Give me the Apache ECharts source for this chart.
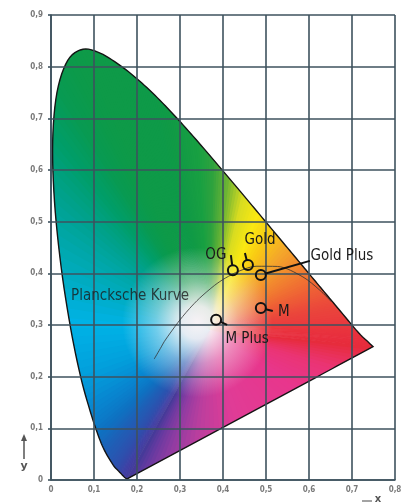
<!DOCTYPE html>
<html><head><meta charset="utf-8">
<script src="https://cdn.jsdelivr.net/npm/echarts@6/dist/echarts.min.js"></script>
<style>html,body{margin:0;padding:0;background:#fff}#c{width:412px;height:503px}</style>
</head><body><div id="c"></div>
<script>
// ---- data ----
const locusX = [0.177,0.1714,0.1644,0.1566,0.1440,0.1241,0.1096,0.0913,0.0687,0.0454,0.0235,0.0082,0.0039,0.0139,0.0389,0.0743,0.1142,0.1547,0.1929,0.2296,0.2658,0.3016,0.3373,0.3731,0.4087,0.4441,0.4788,0.5125,0.5448,0.5752,0.6029,0.6270,0.6482,0.6658,0.6915,0.7079,0.722,0.734,0.749];
const locusY = [0.002,0.0051,0.0109,0.0177,0.0297,0.0578,0.0868,0.1327,0.2007,0.2950,0.4127,0.5384,0.6548,0.7502,0.8120,0.8338,0.8262,0.8059,0.7816,0.7543,0.7243,0.6923,0.6589,0.6245,0.5896,0.5547,0.5202,0.4866,0.4544,0.4242,0.3965,0.3725,0.3514,0.3340,0.3083,0.2920,0.279,0.270,0.258];
const planckX = [0.2399,0.2565,0.2637,0.2807,0.2952,0.3064,0.3221,0.3451,0.3805,0.4053,0.4369,0.4770,0.5267,0.5857,0.6251,0.6528];
const planckY = [0.2341,0.2577,0.2683,0.2884,0.3048,0.3166,0.3318,0.3516,0.3768,0.3907,0.4041,0.4137,0.4133,0.3931,0.3674,0.3444];
const pointNames = ['OG','Gold','Gold Plus','M','M Plus'];
const pointX = [0.423,0.458,0.488,0.488,0.384];
const pointY = [0.406,0.416,0.397,0.333,0.310];
const curveLabel = 'Plancksche Kurve';
const xTickLabels = ['0','0,1','0,2','0,3','0,4','0,5','0,6','0,7','0,8'];
const yTickLabels = ['0','0,1','0,2','0,3','0,4','0,5','0,6','0,7','0,8','0,9'];

// ---- styles / layout ----
const locusColors = ['#3c3a96','#423ca0','#3e42a6','#344aaa','#2a54b0','#1c62b8','#0e72c2','#0886d0','#02a0dc','#00b2e6','#00aab8','#00a290','#009e6a','#089a52','#0c9a4a','#0e9a48','#0e9a48','#0e9a48','#0e9a48','#0e9a48','#109a46','#149c44','#18a042','#2ea23e','#6cb434','#d8dc20','#fae812','#f9c814','#f4a82a','#f28a2e','#f07232','#ee5e36','#ec4e3a','#ea443c','#ea3a3e','#e9343e','#e8303e','#e82e3e','#e62c3c'];
const purpleStops = [
  [0,'#3c3a96'],[0.08,'#643aa0'],[0.18,'#903ca2'],[0.3,'#bc3e9e'],[0.45,'#e03c96'],
  [0.7,'#e8368c'],[0.85,'#ea3474'],[0.95,'#e82f4e'],[1,'#e62c3c']];
const fanCenter = [0.37,0.29];
const whiteCenter = [0.34,0.305];
const callouts = {
  'OG':{tail:[-2,-15],label:[-17,-15]},
  'Gold':{tail:[-3,-12],label:[12,-25]},
  'Gold Plus':{tail:[49,-14],label:[81,-19]},
  'M':{tail:[12,3],label:[23,4]},
  'M Plus':{tail:[11,5],label:[31,19]}
};
const curveLabelPos = [0.184,0.356];
const gridColor = '#3e525e';
const narrow = '"Liberation Sans Narrow", "DejaVu Sans Condensed", sans-serif';
const textFont = '15px ' + narrow;

function hex2rgb(h){return [parseInt(h.substr(1,2),16),parseInt(h.substr(3,2),16),parseInt(h.substr(5,2),16)];}
function mix(a,b,t){const A=hex2rgb(a),B=hex2rgb(b);return 'rgb('+A.map((v,i)=>Math.round(v+(B[i]-v)*t)).join(',')+')';}
function stopColor(t){
  for(let i=0;i<purpleStops.length-1;i++){
    const a=purpleStops[i],b=purpleStops[i+1];
    if(t<=b[0]) return mix(a[1],b[1],(t-a[0])/(b[0]-a[0]));
  }
  return purpleStops[purpleStops.length-1][1];
}

const chart = echarts.init(document.getElementById('c'), null, {renderer:'canvas'});

function horseshoe(params, api){
  const P = locusX.map((x,i)=>api.coord([x, locusY[i]]));
  const n = P.length;
  const K = 6;
  const bnd = [], col = [];
  for (let i=0;i<n-1;i++){
    const p0=P[Math.max(0,i-1)], p1=P[i], p2=P[i+1], p3=P[Math.min(n-1,i+2)];
    for (let k=0;k<K;k++){
      const t=k/K, t2=t*t, t3=t2*t;
      const f=(a,b,c,d)=>0.5*((2*b)+(-a+c)*t+(2*a-5*b+4*c-d)*t2+(-a+3*b-3*c+d)*t3);
      bnd.push([f(p0[0],p1[0],p2[0],p3[0]), f(p0[1],p1[1],p2[1],p3[1])]);
      col.push(mix(locusColors[i], locusColors[i+1], t));
    }
  }
  bnd.push(P[n-1]); col.push(locusColors[n-1]);
  const M = 48;
  for (let m=1;m<M;m++){
    const t = 1 - m/M;
    bnd.push([P[0][0]+(P[n-1][0]-P[0][0])*t, P[0][1]+(P[n-1][1]-P[0][1])*t]);
    col.push(stopColor(t));
  }
  const c = api.coord(fanCenter);
  const children = [];
  const N = bnd.length;
  for (let j=0;j<N;j++){
    const a=bnd[j], b=bnd[(j+1)%N], d=bnd[(j+2)%N];
    children.push({type:'polygon', shape:{points:[c,a,b,d]}, style:{fill:col[j], stroke:null}});
  }
  const w = api.coord(whiteCenter);
  const rg = new echarts.graphic.RadialGradient(w[0], w[1], 75, [
    {offset:0,color:'rgba(248,242,245,1)'},{offset:0.22,color:'rgba(248,242,245,0.92)'},
    {offset:0.55,color:'rgba(248,242,245,0.45)'},{offset:1,color:'rgba(248,242,245,0)'}], true);
  children.push({type:'polygon', shape:{points:bnd}, style:{fill:rg}});
  children.push({type:'polygon', shape:{points:bnd}, style:{fill:'none', stroke:'#151515', lineWidth:1.4}});
  return {type:'group', children};
}

function callout(params, api){
  const name = pointNames[params.dataIndex];
  const p = api.coord([api.value(0), api.value(1)]);
  const L = callouts[name];
  const r = 5;
  const len = Math.hypot(L.tail[0], L.tail[1]);
  const ux = L.tail[0]/len, uy = L.tail[1]/len;
  return {type:'group', children:[
    {type:'line', shape:{x1:p[0]+ux*r, y1:p[1]+uy*r, x2:p[0]+L.tail[0], y2:p[1]+L.tail[1]}, style:{stroke:'#111', lineWidth:2}},
    {type:'circle', shape:{cx:p[0], cy:p[1], r:r}, style:{fill:'none', stroke:'#111', lineWidth:2}},
    {type:'text', x:p[0]+L.label[0], y:p[1]+L.label[1], style:{text:name, fill:'#1a1a1a', font:textFont, align:'center', verticalAlign:'middle'}}
  ]};
}

const axisCommon = {
  type:'value', interval:0.1, z:3,
  axisLine:{show:true, lineStyle:{color:gridColor, width:1.6}},
  splitLine:{show:true, lineStyle:{color:gridColor, width:1.6}},
  axisLabel:{color:'#7a7a7a', fontSize:8, fontWeight:'bold', fontFamily:narrow}
};

chart.setOption({
  animation:false,
  backgroundColor:'#ffffff',
  grid:{left:51, right:17, top:15, bottom:23},
  xAxis:Object.assign({}, axisCommon, {min:0, max:0.8,
    axisTick:{show:false},
    axisLabel:Object.assign({}, axisCommon.axisLabel, {margin:6, formatter:v=>xTickLabels[Math.round(v*10)]})}),
  yAxis:Object.assign({}, axisCommon, {min:0, max:0.9,
    axisTick:{show:true, length:3, lineStyle:{color:gridColor, width:1.6}},
    axisLabel:Object.assign({}, axisCommon.axisLabel, {margin:8, formatter:v=>yTickLabels[Math.round(v*10)]})}),
  graphic:[
    {type:'line', shape:{x1:24, y1:459, x2:24, y2:439}, style:{stroke:'#555', lineWidth:1.5}},
    {type:'polygon', shape:{points:[[21,441],[27,441],[24,434]]}, style:{fill:'#555'}},
    {type:'text', x:24, y:466, style:{text:'y', fill:'#555', font:'bold 11px "DejaVu Sans", sans-serif', align:'center', verticalAlign:'middle'}},
    {type:'line', shape:{x1:362, y1:501, x2:372, y2:501}, style:{stroke:'#666', lineWidth:1.2}},
    {type:'text', x:378, y:499, style:{text:'x', fill:'#555', font:'bold 10px "DejaVu Sans", sans-serif', align:'center', verticalAlign:'middle'}}
  ],
  series:[
    {type:'custom', z:1, clip:false, silent:true, data:[[0,0]], encode:{x:0,y:1}, renderItem:horseshoe},
    {type:'line', z:4, smooth:0.3, symbol:'none', silent:true,
      data:planckX.map((x,i)=>[x, planckY[i]]),
      lineStyle:{color:'rgba(50,50,50,0.8)', width:1}},
    {type:'custom', z:5, clip:false, silent:true,
      data:pointX.map((x,i)=>[x, pointY[i]]), encode:{x:0,y:1}, renderItem:callout},
    {type:'scatter', z:5, silent:true, symbolSize:0, data:[curveLabelPos],
      label:{show:true, position:'inside', formatter:curveLabel, color:'#1a1a1a', fontSize:15, fontFamily:narrow}}
  ]
});
</script>
</body></html>
